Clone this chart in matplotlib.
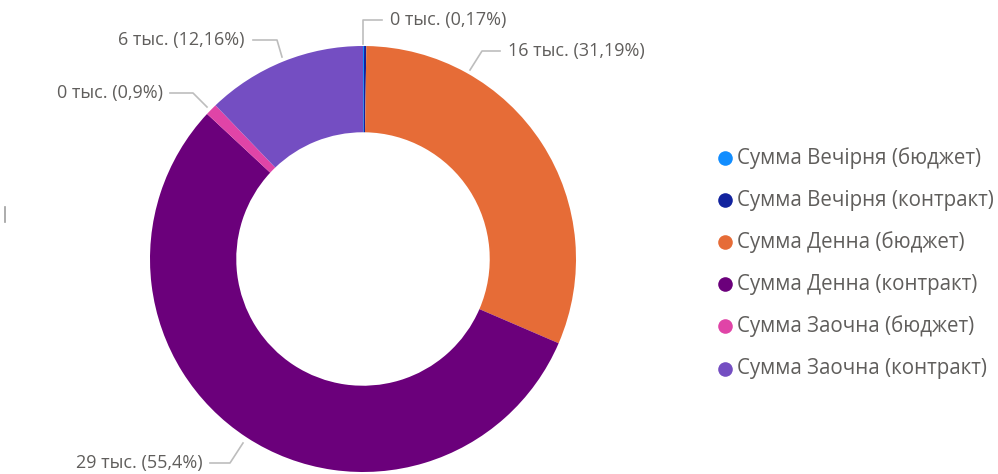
import matplotlib.pyplot as plt

categories = ['Сумма Вечірня (бюджет)', 'Сумма Вечірня (контракт)', 'Сумма Денна (бюджет)',
              'Сумма Денна (контракт)', 'Сумма Заочна (бюджет)', 'Сумма Заочна (контракт)']
shares = [0.08, 0.17, 31.19, 55.4, 0.9, 12.16]
colors = ['#118DFF', '#12239E', '#E66C37', '#6B007B', '#E044A7', '#744EC2']
labels = ['0 тыс. (0,17%)', '16 тыс. (31,19%)', '29 тыс. (55,4%)', '0 тыс. (0,9%)', '6 тыс. (12,16%)']

W, H = 998, 474
fig = plt.figure(figsize=(W / 100, H / 100), dpi=100)
ax = fig.add_axes([0, 0, 1, 1])

cx, cy, R = 363, H - 259, 213
ax.pie(shares, colors=colors, startangle=90, counterclock=False, radius=R,
       center=(cx, cy), wedgeprops=dict(width=R * 0.405, linewidth=0))
ax.set_xlim(0, W)
ax.set_ylim(0, H)
ax.set_aspect('equal')
ax.axis('off')

txt = '#605E5C'
font = 'Open Sans'
# leader lines in pixel coords (y from top), then label text
leaders = [
    ([363, 363, 382], [44, 20, 20], (390, 20), 'left'),
    ([470, 482, 500], [70, 51, 51], (508, 51), 'left'),
    ([243, 230, 210], [443, 463, 463], (203, 463), 'right'),
    ([207, 193, 170], [107, 93, 93], (163, 93), 'right'),
    ([282, 277, 253], [57, 40, 40], (245, 40), 'right'),
]
for lab, (xs, ys, (tx, ty), ha) in zip(labels, leaders):
    ax.plot(xs, [H - y for y in ys], color='#BDBDBD', lw=1.2)
    ax.text(tx, H - ty, lab, ha=ha, va='center', fontsize=13, color=txt, family=font)

# legend
for i, (name, c) in enumerate(zip(categories, colors)):
    y = H - (158 + i * 42.1)
    ax.plot(725, y, 'o', ms=10.5, color=c, mec='none')
    ax.text(737, y, name, ha='left', va='center', fontsize=14.8, color=txt, family=font)

# small stray mark on the left edge
ax.plot([5, 5], [H - 207, H - 222], color='#9E9E9E', lw=1.2)

fig.savefig('out.png', dpi=100)
